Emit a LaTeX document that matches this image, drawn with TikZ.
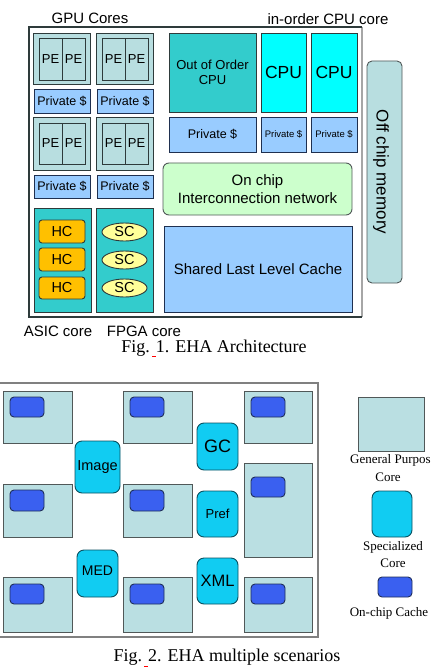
\documentclass[tikz,border=0pt]{standalone}
\usepackage{fontspec}
\setmainfont{Liberation Sans}
\newfontfamily\capfont{Liberation Serif}
\usetikzlibrary{shapes.geometric}
\definecolor{gpuf}{HTML}{B8DEE0}
\definecolor{privf}{HTML}{99CCFF}
\definecolor{navy}{HTML}{1F3050}
\definecolor{ooof}{HTML}{33CCCC}
\definecolor{cpuf}{HTML}{00FFFF}
\definecolor{hcf}{HTML}{FFC000}
\definecolor{scf}{HTML}{FFFF99}
\definecolor{nocf}{HTML}{CCFFCC}
\definecolor{darkb}{HTML}{2E3B3B}
\definecolor{coref}{HTML}{BADFE2}
\definecolor{coreb}{HTML}{505858}
\definecolor{cachef}{HTML}{3A60F0}
\definecolor{cacheb}{HTML}{1F2E5A}
\definecolor{specf}{HTML}{11CCF2}
\definecolor{specb}{HTML}{0A5060}
\newcommand\rbox[7]{\node[#1, minimum width={#5-#3}, minimum height={#6-#4}] (#2) at ({(#3+#5)/2},{(#4+#6)/2}) {#7};}
\tikzset{
  base/.style={draw, inner sep=0pt, outer sep=0pt, align=center, line width=0.9pt},
  gpublk/.style={base, fill=gpuf, draw=darkb},
  pebox/.style={base, fill=gpuf, draw=darkb, font=\fontsize{13}{13}\selectfont},
  privbox/.style={base, fill=privf, draw=navy, font=\fontsize{12.5}{13}\selectfont},
  privsmall/.style={base, fill=privf, draw=navy, font=\fontsize{9.5}{10}\selectfont},
  ooobox/.style={base, fill=ooof, draw=darkb, font=\fontsize{13}{15}\selectfont},
  cpubox/.style={base, fill=cpuf, draw=darkb, font=\fontsize{17.5}{18}\selectfont},
  asicbox/.style={base, fill=ooof, draw=darkb},
  hcbox/.style={base, fill=hcf, draw=darkb, rounded corners=3pt, font=\fontsize{14.5}{15}\selectfont},
  scbox/.style={base, ellipse, fill=scf, draw=darkb, font=\fontsize{14.5}{15}\selectfont},
  nocbox/.style={base, fill=nocf, draw=coreb, rounded corners=6pt, font=\fontsize{15}{18}\selectfont},
  llcbox/.style={base, fill=privf, draw=navy, font=\fontsize{15}{18}\selectfont},
  offbox/.style={base, fill=gpuf, draw=coreb, rounded corners=5pt},
  lbl/.style={inner sep=0pt, font=\fontsize{15}{15}\selectfont},
  caption/.style={inner sep=0pt, font=\capfont\fontsize{18}{18}\selectfont},
  legtext/.style={inner sep=0pt, font=\capfont\fontsize{13}{13}\selectfont},
  corebox/.style={base, fill=coref, draw=coreb},
  cachebox/.style={base, fill=cachef, draw=cacheb, rounded corners=4pt},
  specbox/.style={base, fill=specf, draw=specb, rounded corners=7pt},
  redmark/.style={draw=red, line width=0.8pt}
}
\begin{document}
\begin{tikzpicture}[x=1pt,y=-1pt]
\useasboundingbox (0,0) rectangle (432,671);
% ---------- Fig 1 ----------
\coordinate (f1tl) at (29,27);
\coordinate (f1tr) at (362,27);
\coordinate (f1br) at (362,317);
\coordinate (f1bl) at (29,317);
\draw[draw=gray!70, line width=1.2pt] (f1tr) -- (f1br);
\draw[draw=darkb, line width=1.6pt] (f1tr) -- (f1tl) -- (f1bl) -- (f1br);
\node[lbl] (gputitle) at (90,18) {GPU Cores};
\node[lbl] (inordertitle) at (328,19) {in-order CPU core};
% GPU blocks
\rbox{gpublk}{g1}{33}{33}{90}{84}{}
\rbox{pebox}{g1a}{39}{38}{62}{80}{PE}
\rbox{pebox}{g1b}{62}{38}{85}{80}{PE}
\rbox{gpublk}{g2}{96}{33}{153}{84}{}
\rbox{pebox}{g2a}{102}{38}{125}{80}{PE}
\rbox{pebox}{g2b}{125}{38}{148}{80}{PE}
\rbox{gpublk}{g3}{33}{117}{90}{170}{}
\rbox{pebox}{g3a}{39}{123}{62}{164}{PE}
\rbox{pebox}{g3b}{62}{123}{85}{164}{PE}
\rbox{gpublk}{g4}{96}{117}{153}{170}{}
\rbox{pebox}{g4a}{102}{123}{125}{164}{PE}
\rbox{pebox}{g4b}{125}{123}{148}{164}{PE}
\rbox{privbox}{p1}{34}{89}{90}{113}{Private \$}
\rbox{privbox}{p2}{97}{89}{153}{113}{Private \$}
\rbox{privbox}{p3}{34}{175}{90}{198}{Private \$}
\rbox{privbox}{p4}{97}{175}{153}{198}{Private \$}
% ASIC / FPGA
\rbox{asicbox}{asic}{34}{208}{91}{312}{}
\rbox{asicbox}{fpga}{96}{208}{153}{312}{}
\rbox{hcbox}{hc1}{39}{220}{85}{243}{HC}
\rbox{hcbox}{hc2}{39}{248}{85}{271}{HC}
\rbox{hcbox}{hc3}{39}{277}{85}{299}{HC}
\node[scbox, minimum width=45pt, minimum height=18pt] (sc1) at (124.5,232) {SC};
\node[scbox, minimum width=45pt, minimum height=18pt] (sc2) at (124.5,260) {SC};
\node[scbox, minimum width=45pt, minimum height=18pt] (sc3) at (124.5,288) {SC};
\node[lbl] (asiclbl) at (58,331) {ASIC core};
\node[lbl] (fpgalbl) at (144,331) {FPGA core};
% CPUs
\rbox{ooobox}{ooo}{169}{33}{256}{112}{Out of Order\\CPU}
\rbox{cpubox}{cpu1}{261}{33}{306}{112}{CPU}
\rbox{cpubox}{cpu2}{311}{33}{357}{112}{CPU}
\rbox{privbox}{pbig}{169}{117}{256}{152}{Private \$}
\rbox{privsmall}{ps1}{261}{117}{306}{152}{Private \$}
\rbox{privsmall}{ps2}{311}{117}{357}{152}{Private \$}
\rbox{nocbox}{noc}{163}{163}{352}{215}{On chip\\Interconnection network}
\rbox{llcbox}{llc}{164}{226}{352}{312}{Shared Last Level Cache}
\rbox{offbox}{off}{367}{61}{402}{283}{}
\node[rotate=-90, inner sep=0pt, font=\fontsize{17}{17}\selectfont] (offtxt) at (381,172) {Off chip memory};
\node[caption] (cap1) at (214,348) {Fig. 1. EHA Architecture};
\draw[redmark] (152,356.5) -- (156,356.5);
% ---------- Fig 2 ----------
\draw[draw=gray, line width=1.2pt] (-2,383) rectangle (318,637);
\rbox{corebox}{c1}{3}{391}{72}{443}{}
\rbox{corebox}{c2}{123}{391}{192}{443}{}
\rbox{corebox}{c3}{244}{391}{312}{443}{}
\rbox{corebox}{c4}{3}{484}{72}{537}{}
\rbox{corebox}{c5}{123}{484}{192}{537}{}
\rbox{corebox}{c6}{244}{463}{312}{557}{}
\rbox{corebox}{c7}{3}{577}{72}{632}{}
\rbox{corebox}{c8}{123}{577}{192}{632}{}
\rbox{corebox}{c9}{244}{577}{312}{632}{}
\rbox{cachebox}{k1}{10}{397}{44}{417}{}
\rbox{cachebox}{k2}{130}{397}{164}{417}{}
\rbox{cachebox}{k3}{251}{397}{285}{417}{}
\rbox{cachebox}{k4}{10}{490}{44}{511}{}
\rbox{cachebox}{k5}{130}{490}{164}{511}{}
\rbox{cachebox}{k6}{251}{477}{285}{497}{}
\rbox{cachebox}{k7}{10}{584}{44}{604}{}
\rbox{cachebox}{k8}{130}{584}{164}{604}{}
\rbox{cachebox}{k9}{251}{584}{285}{604}{}
\rbox{specbox, font=\fontsize{14.5}{15}\selectfont}{image}{75}{441}{120}{493}{Image}
\rbox{specbox, font=\fontsize{18}{18}\selectfont}{gc}{197}{423}{238}{470}{GC}
\rbox{specbox, font=\fontsize{13}{13}\selectfont}{pref}{197}{491}{238}{537}{Pref}
\rbox{specbox, font=\fontsize{16.5}{17}\selectfont}{xml}{197}{558}{238}{604}{XML}
\rbox{specbox, font=\fontsize{14}{14}\selectfont, text depth=6pt}{med}{77}{550}{118}{597}{MED}
% legend
\rbox{corebox}{lgcore}{358}{397}{424}{451}{}
\node[legtext, anchor=west] (lgcoret1) at (350,460) {General Purpos};
\node[legtext] (lgcoret2) at (388,477) {Core};
\rbox{specbox}{lgspec}{372}{491}{412}{537}{}
\node[legtext] (lgspect1) at (393,547) {Specialized};
\node[legtext] (lgspect2) at (393,563) {Core};
\rbox{cachebox}{lgcache}{378}{577}{412}{597}{}
\node[legtext] (lgcachet) at (389,613) {On-chip Cache};
\node[caption] (cap2) at (227,657) {Fig. 2. EHA multiple scenarios};
\draw[redmark] (144,666.5) -- (148,666.5);
\end{tikzpicture}
\end{document}
